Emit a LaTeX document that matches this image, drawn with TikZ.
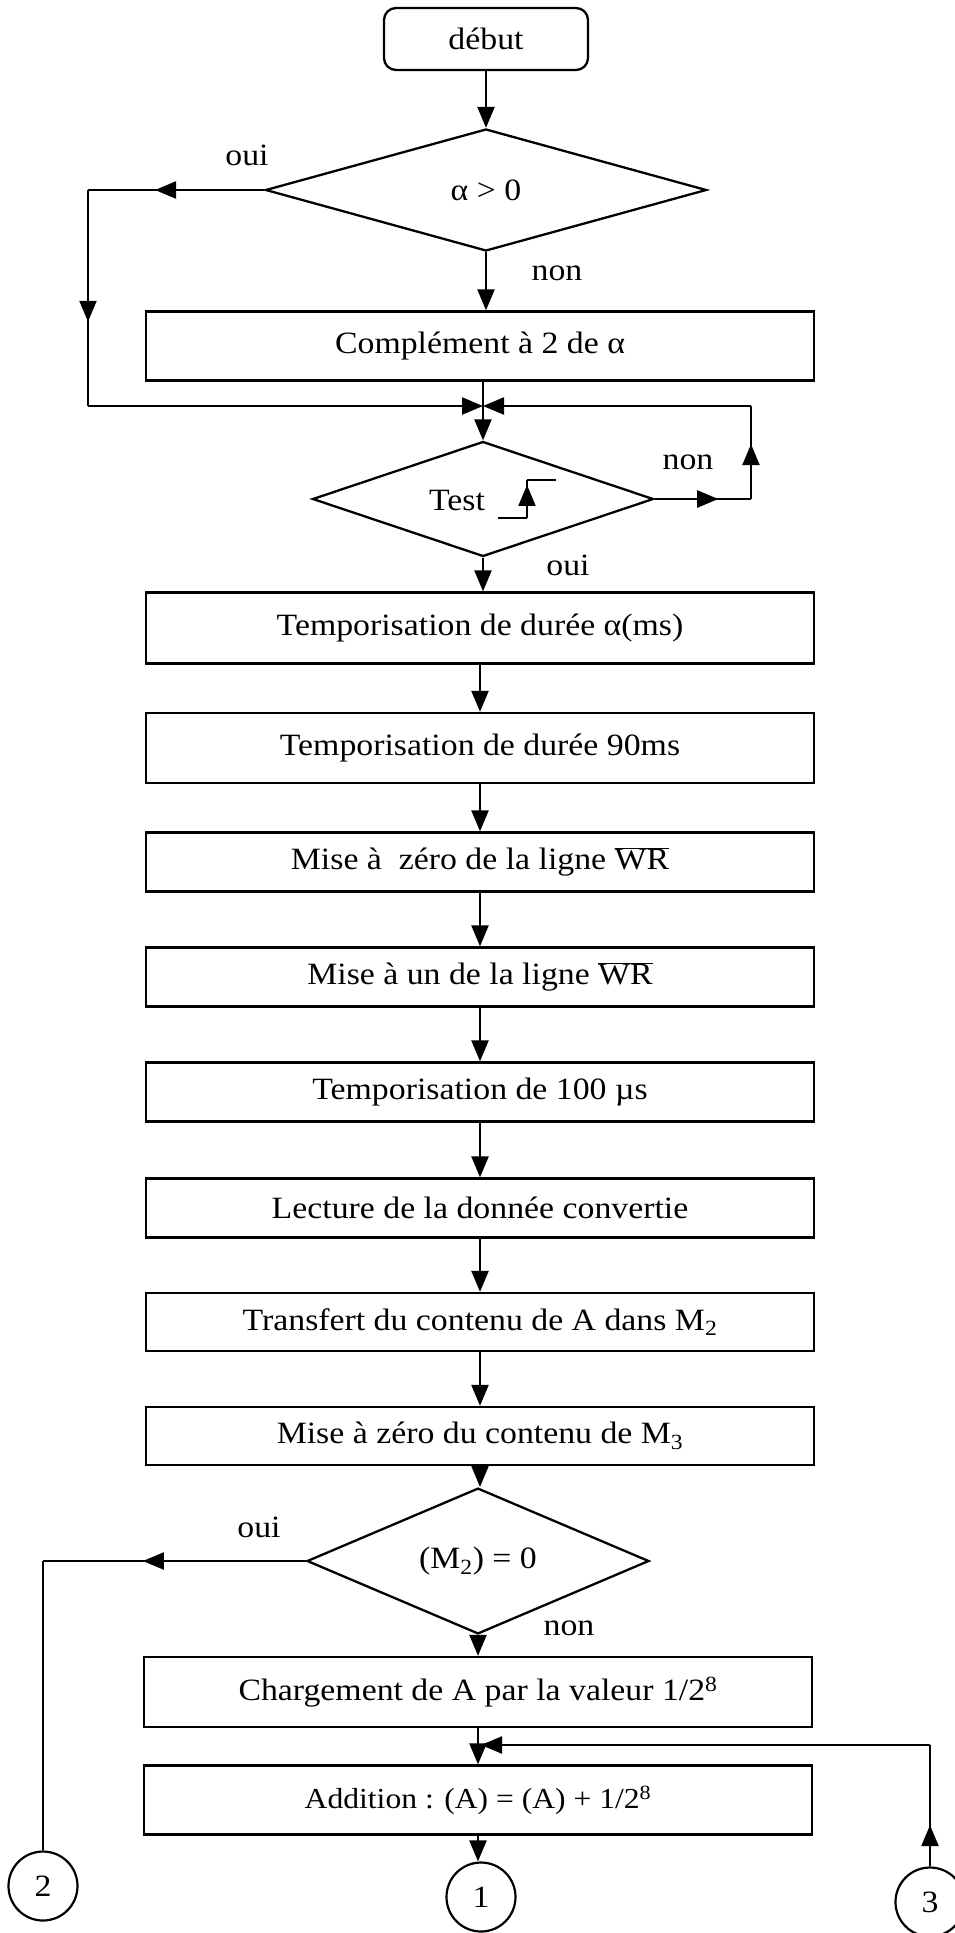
\documentclass[tikz,border=0pt]{standalone}
\usepackage{fontspec}
\setmainfont{Liberation Serif}[FakeStretch=1.09]
\usetikzlibrary{arrows.meta,shapes.geometric,decorations.markings}

\begin{document}
\begin{tikzpicture}[x=1pt,y=-1pt,
  every node/.style={font=\fontsize{31}{37}\selectfont},
  line/.style={line width=2.3pt},
  box/.style={draw,line width=2.3pt,minimum width=668pt,inner sep=0pt},
  dec/.style={draw,diamond,line width=2.3pt,inner sep=0pt},
  conn/.style={draw,circle,line width=2.2pt,minimum size=69pt,inner sep=0pt},
  tip/.style={-{Triangle[length=21pt,width=17pt]}},
  midtip/.style={postaction={decorate},decoration={markings,
      mark=at position #1 with {\arrow{Triangle[length=21pt,width=17pt]}}}},
  lbl/.style={inner sep=0pt}
]
\useasboundingbox (0,0) rectangle (955,1933);
\fill[white] (0,0) rectangle (955,1933);

% terminal and decisions
\node[draw,rounded corners=12pt,line width=2.3pt,minimum width=204pt,minimum height=62pt] (start) at (486,39) {début};
\node[dec,minimum width=441pt,minimum height=122pt] (d1) at (486,190) {α > 0};
\node[dec,minimum width=341pt,minimum height=115pt] (dt) at (483,499) {};
\node[lbl] (tlbl) at (457,500) {Test};
\node[dec,minimum width=342pt,minimum height=112pt] (d3) at (478,1561) {(M\textsubscript{2}) = 0};

% process boxes
\node[box,minimum height=69pt] (b1) at (480,346) {Complément à 2 de α};
\node[box,minimum height=71pt] (b2) at (480,628) {Temporisation de durée α(ms)};
\node[box,minimum height=70pt] (b3) at (480,748) {Temporisation de durée 90ms};
\node[box,minimum height=59pt] (b4) at (480,862) {Mise à~ zéro de la ligne $\overline{\mbox{WR}}$};
\node[box,minimum height=59pt] (b5) at (480,977) {Mise à un de la ligne $\overline{\mbox{WR}}$};
\node[box,minimum height=59pt] (b6) at (480,1092) {Temporisation de 100 µs};
\node[box,minimum height=59pt] (b7) at (480,1208) {Lecture de la donnée convertie};
\node[box,minimum height=58pt] (b8) at (480,1322) {Transfert du contenu de A dans M\textsubscript{2}};
\node[box,minimum height=58pt] (b9) at (480,1436) {Mise à zéro du contenu de M\textsubscript{3}};
\node[box,minimum height=70pt] (b10) at (478,1692) {Chargement de A par la valeur 1/2\textsuperscript{8}};
\node[box,minimum height=69pt,font=\fontsize{29}{35}\selectfont] (b11) at (478,1800) {Addition : (A) = (A) + 1/2\textsuperscript{8}};

% connectors (page references)
\node[conn] (c2) at (43,1886) {2};
\node[conn] (c1) at (481,1897) {1};
\node[conn] (c3) at (930,1902) {3};

% branch labels
\node[lbl] (o1) at (247,155) {oui};
\node[lbl] (n1) at (557,273) {non};
\node[lbl] (n2) at (688,462) {non};
\node[lbl] (o2) at (568,565) {oui};
\node[lbl] (o3) at (259,1527) {oui};
\node[lbl] (n3) at (569,1628) {non};

% corner points of the loops
\coordinate (k1) at (88,190);
\coordinate (k2) at (88,406);
\coordinate (j1) at (483,406);
\coordinate (k3) at (751,499);
\coordinate (k4) at (751,406);
\coordinate (k5) at (43,1561);
\coordinate (j2) at (481,1745);
\coordinate (k6) at (930,1745);

% rising edge inside the test
\draw[line width=2pt] (498,518) -- (527,518);
\draw[line width=2pt,midtip=0.87] (527,518) -- (527,480);
\draw[line width=2pt] (527,480) -- (556,480);

% main flow
\draw[line,tip] (start.south) -- (start.south |- d1.north);
\draw[line,midtip=0.62] (d1.west) -- (k1);
\draw[line,midtip=0.61] (k1) -- (k2);
\draw[line,tip] (k2) -- (j1);
\draw[line,tip] (d1.south) -- (d1.south |- b1.north);
\draw[line] (j1 |- b1.south) -- (j1);
\draw[line,tip] (j1) -- (dt.north);
\draw[line,midtip=0.66] (dt.east) -- (k3);
\draw[line,midtip=0.59] (k3) -- (k4);
\draw[line,tip] (k4) -- (j1);
\draw[line,tip] (dt.south) -- (dt.south |- b2.north);
\draw[line,tip] (b2.south) -- (b2.south |- b3.north);
\draw[line,tip] (b3.south) -- (b3.south |- b4.north);
\draw[line,tip] (b4.south) -- (b4.south |- b5.north);
\draw[line,tip] (b5.south) -- (b5.south |- b6.north);
\draw[line,tip] (b6.south) -- (b6.south |- b7.north);
\draw[line,tip] (b7.south) -- (b7.south |- b8.north);
\draw[line,tip] (b8.south) -- (b8.south |- b9.north);
\draw[line,tip] (b9.south) -- (b9.south |- d3.north);
\draw[line,midtip=0.62] (d3.west) -- (k5);
\draw[line] (k5) -- (c2.north);
\draw[line,tip] (d3.south) -- (d3.south |- b10.north);
\draw[line,tip] (b10.south) -- (b10.south |- b11.north);
\draw[line,midtip=0.34] (c3.north) -- (k6);
\draw[line,tip] (k6) -- (j2);
\draw[line,tip] (b11.south) -- (b11.south |- c1.north);
\end{tikzpicture}
\end{document}
